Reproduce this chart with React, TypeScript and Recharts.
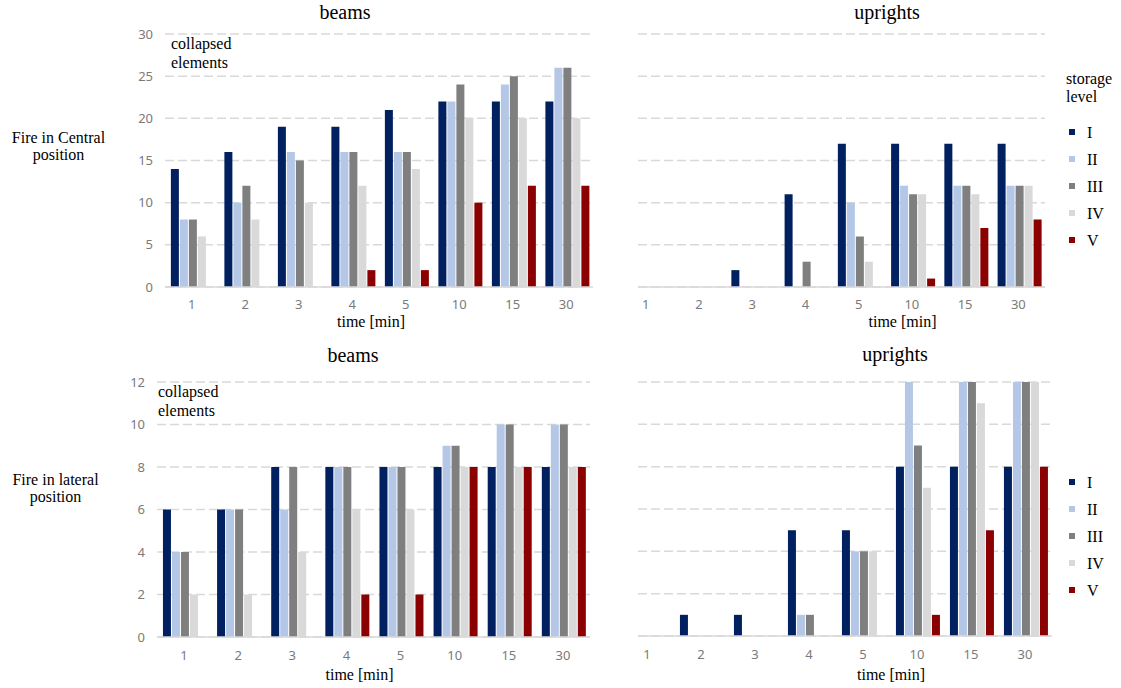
import React from 'react';
import { BarChart, Bar, XAxis, YAxis, CartesianGrid, Legend } from 'recharts';

const categories = ['1', '2', '3', '4', '5', '10', '15', '30'];
const levels = ['I', 'II', 'III', 'IV', 'V'];
const levelColors = ['#002060', '#B4C7E7', '#7F7F7F', '#D9D9D9', '#8B0000'];

// Fire in central position - beams
const centralBeamsI = [14, 16, 19, 19, 21, 22, 22, 22];
const centralBeamsII = [8, 10, 16, 16, 16, 22, 24, 26];
const centralBeamsIII = [8, 12, 15, 16, 16, 24, 25, 26];
const centralBeamsIV = [6, 8, 10, 12, 14, 20, 20, 20];
const centralBeamsV = [0, 0, 0, 2, 2, 10, 12, 12];

// Fire in central position - uprights
const centralUprightsI = [0, 0, 2, 11, 17, 17, 17, 17];
const centralUprightsII = [0, 0, 0, 0, 10, 12, 12, 12];
const centralUprightsIII = [0, 0, 0, 3, 6, 11, 12, 12];
const centralUprightsIV = [0, 0, 0, 0, 3, 11, 11, 12];
const centralUprightsV = [0, 0, 0, 0, 0, 1, 7, 8];

// Fire in lateral position - beams
const lateralBeamsI = [6, 6, 8, 8, 8, 8, 8, 8];
const lateralBeamsII = [4, 6, 6, 8, 8, 9, 10, 10];
const lateralBeamsIII = [4, 6, 8, 8, 8, 9, 10, 10];
const lateralBeamsIV = [2, 2, 4, 6, 6, 8, 8, 8];
const lateralBeamsV = [0, 0, 0, 2, 2, 8, 8, 8];

// Fire in lateral position - uprights
const lateralUprightsI = [0, 1, 1, 5, 5, 8, 8, 8];
const lateralUprightsII = [0, 0, 0, 1, 4, 12, 12, 12];
const lateralUprightsIII = [0, 0, 0, 1, 4, 9, 12, 12];
const lateralUprightsIV = [0, 0, 0, 0, 4, 7, 11, 12];
const lateralUprightsV = [0, 0, 0, 0, 0, 1, 5, 8];

const centralTicks = [0, 5, 10, 15, 20, 25, 30];
const lateralTicks = [0, 2, 4, 6, 8, 10, 12];

const SERIF = '"Liberation Serif", "Times New Roman", serif';
const SANS = '"Noto Sans", "Open Sans", sans-serif';

function buildRows(series: number[][]) {
  return categories.map((c, i) => {
    const row: Record<string, any> = { time: c };
    levels.forEach((l, j) => {
      row[l] = series[j][i];
    });
    return row;
  });
}

const renderLegend = (header: boolean) => (props: any) => {
  const payload = props.payload || [];
  return (
    <div style={{ fontFamily: SERIF, fontSize: 16, color: '#000', textAlign: 'left' }}>
      {header && (
        <div style={{ lineHeight: '18px', marginBottom: 12.5 }}>
          storage
          <br />
          level
        </div>
      )}
      {payload.map((p: any) => (
        <div key={p.value} style={{ height: 27, display: 'flex', alignItems: 'center' }}>
          <span style={{ display: 'inline-block', width: 6, height: 6, background: p.color, marginLeft: 3, marginRight: 12 }} />
          <span style={{ lineHeight: '27px' }}>{p.value}</span>
        </div>
      ))}
    </div>
  );
};

const timeLabel = (dx: number, dy: number) => (props: any) => {
  const vb = props.viewBox || {};
  return (
    <text
      x={vb.x + vb.width / 2 + dx}
      y={vb.y + dy}
      textAnchor="middle"
      fontFamily={SERIF}
      fontSize={16}
      fill="#000"
    >
      time [min]
    </text>
  );
};

type PanelProps = {
  left: number;
  top: number;
  width: number;
  height: number;
  margin: { top: number; right: number; bottom: number; left: number };
  rows: any[];
  ticks: number[];
  showY: boolean;
  yWidth: number;
  padLeft: number;
  xTickMargin: number;
  labelDx: number;
  labelDy: number;
  legend?: { left: number; top: number; header: boolean };
};

function Panel(p: PanelProps) {
  const max = p.ticks[p.ticks.length - 1];
  return (
    <div style={{ position: 'absolute', left: p.left, top: p.top, width: p.width, height: p.height }}>
      <BarChart
        width={p.width}
        height={p.height}
        data={p.rows}
        margin={p.margin}
        barCategoryGap="11%"
        barGap={1}
      >
        <CartesianGrid vertical={false} stroke="#D9D9D9" strokeWidth={1.5} strokeDasharray="9 4" />
        <XAxis
          dataKey="time"
          height={30}
          tickLine={false}
          tickSize={0}
          tickMargin={p.xTickMargin}
          axisLine={{ stroke: '#D9D9D9', strokeWidth: 1.5 }}
          padding={{ left: p.padLeft, right: 0 }}
          tick={{ fill: '#7A7A7A', fontFamily: SANS, fontSize: 13 }}
          interval={0}
          label={{ value: 'time [min]', content: timeLabel(p.labelDx, p.labelDy) }}
        />
        <YAxis
          hide={!p.showY}
          width={p.yWidth}
          domain={[0, max]}
          ticks={p.ticks}
          allowDataOverflow
          axisLine={false}
          tickLine={false}
          tickSize={0}
          tickMargin={12}
          tick={{ fill: '#7A7A7A', fontFamily: SANS, fontSize: 13 }}
        />
        {p.legend && (
          <Legend
            layout="vertical"
            align="center"
            verticalAlign="middle"
            content={renderLegend(p.legend.header)}
            wrapperStyle={{ position: 'absolute', left: p.legend.left, top: p.legend.top, width: 55, height: 'auto' }}
          />
        )}
        {levels.map((l, i) => (
          <Bar key={l} dataKey={l} name={l} fill={levelColors[i]} isAnimationActive={false} />
        ))}
      </BarChart>
    </div>
  );
}

const textStyle: React.CSSProperties = {
  position: 'absolute',
  fontFamily: SERIF,
  color: '#000',
  whiteSpace: 'nowrap',
};

export default function App() {
  const cb = buildRows([centralBeamsI, centralBeamsII, centralBeamsIII, centralBeamsIV, centralBeamsV]);
  const cu = buildRows([centralUprightsI, centralUprightsII, centralUprightsIII, centralUprightsIV, centralUprightsV]);
  const lb = buildRows([lateralBeamsI, lateralBeamsII, lateralBeamsIII, lateralBeamsIV, lateralBeamsV]);
  const lu = buildRows([lateralUprightsI, lateralUprightsII, lateralUprightsIII, lateralUprightsIV, lateralUprightsV]);

  return (
    <div style={{ position: 'absolute', left: 0, top: 0, width: 1121, height: 688, background: '#fff', overflow: 'hidden' }}>
      <Panel
        left={100} top={0} width={500} height={340}
        margin={{ top: 34, right: 7, bottom: 23, left: 0 }}
        rows={cb} ticks={centralTicks} showY yWidth={65} padLeft={0}
        xTickMargin={13} labelDx={-8} labelDy={40}
      />
      <Panel
        left={600} top={0} width={521} height={340}
        margin={{ top: 34, right: 76, bottom: 23, left: 38 }}
        rows={cu} ticks={centralTicks} showY={false} yWidth={0} padLeft={-19}
        xTickMargin={13} labelDx={61} labelDy={40}
        legend={{ left: 466, top: 70, header: true }}
      />
      <Panel
        left={100} top={340} width={500} height={348}
        margin={{ top: 42, right: 10, bottom: 21, left: 0 }}
        rows={lb} ticks={lateralTicks} showY yWidth={57} padLeft={0}
        xTickMargin={14} labelDx={-14} labelDy={43}
      />
      <Panel
        left={600} top={340} width={521} height={348}
        margin={{ top: 42, right: 69, bottom: 22, left: 38 }}
        rows={lu} ticks={lateralTicks} showY={false} yWidth={0} padLeft={-18}
        xTickMargin={14} labelDx={46} labelDy={44}
        legend={{ left: 466, top: 128.5, header: false }}
      />

      <div style={{ ...textStyle, left: 245, width: 200, top: 2, fontSize: 20, lineHeight: '20px', textAlign: 'center' }}>beams</div>
      <div style={{ ...textStyle, left: 787, width: 200, top: 2, fontSize: 20, lineHeight: '20px', textAlign: 'center' }}>uprights</div>
      <div style={{ ...textStyle, left: 253, width: 200, top: 345, fontSize: 20, lineHeight: '20px', textAlign: 'center' }}>beams</div>
      <div style={{ ...textStyle, left: 795, width: 200, top: 344, fontSize: 20, lineHeight: '20px', textAlign: 'center' }}>uprights</div>

      <div style={{ ...textStyle, left: 171, top: 34, fontSize: 16, lineHeight: '19px' }}>
        collapsed
        <br />
        elements
      </div>
      <div style={{ ...textStyle, left: 158, top: 382, fontSize: 16, lineHeight: '19px' }}>
        collapsed
        <br />
        elements
      </div>

      <div style={{ ...textStyle, left: 0, width: 117, top: 129, fontSize: 16, lineHeight: '17px', textAlign: 'center' }}>
        Fire in Central
        <br />
        position
      </div>
      <div style={{ ...textStyle, left: 0, width: 111, top: 471, fontSize: 16, lineHeight: '17px', textAlign: 'center' }}>
        Fire in lateral
        <br />
        position
      </div>
    </div>
  );
}
